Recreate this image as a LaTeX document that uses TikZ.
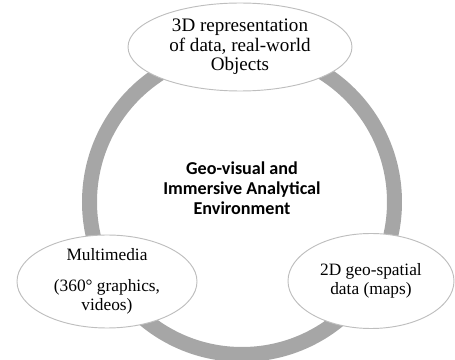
\documentclass[tikz,border=0pt]{standalone}
\usepackage{fontspec}
\setmainfont{Liberation Serif}
\newfontfamily\hubfont{Carlito}
\usepackage{xcolor}
\usepackage{tikz}
\usetikzlibrary{positioning,shapes.geometric}

\definecolor{ringgray}{RGB}{166,166,166}
\definecolor{rimgray}{RGB}{190,190,190}

\begin{document}
\begin{tikzpicture}[
			x=0.75pt, y=-0.75pt,
			ring/.style={draw=ringgray, line width=11.25pt},
			topic/.style={draw=rimgray, fill=white, ellipse, line width=0.7pt, inner sep=0pt, align=center,
				font=\fontsize{13}{14.6}\selectfont},
			hub/.style={align=center, font=\hubfont\bfseries\fontsize{13.6}{15}\selectfont}
			]
			\useasboundingbox (0,0) rectangle (455,360);
			
			%==================== 环 ====================
			\coordinate (c) at (242,202);
			\draw[ring] (c) circle[radius=152.5];
			
			%==================== 中心 ====================
			\node[hub] (env) at (242,188) {Geo-visual and\\Immersive Analytical\\Environment};
			
			%==================== 三个主题 ====================
			\node[topic, minimum width=168pt, minimum height=66pt, font=\fontsize{14.3}{14.6}\selectfont] (threed) at (240,47)
				{3D representation\\of data, real-world\\Objects};
			\node[topic, minimum width=135pt, minimum height=69.75pt] (media) at (107,281.5)
				{Multimedia\\[8pt](360° graphics,\\videos)};
			\node[topic, minimum width=124.5pt, minimum height=71.25pt] (twod) at (371,281)
				{2D geo-spatial\\data (maps)};
			
		\end{tikzpicture}
\end{document}
